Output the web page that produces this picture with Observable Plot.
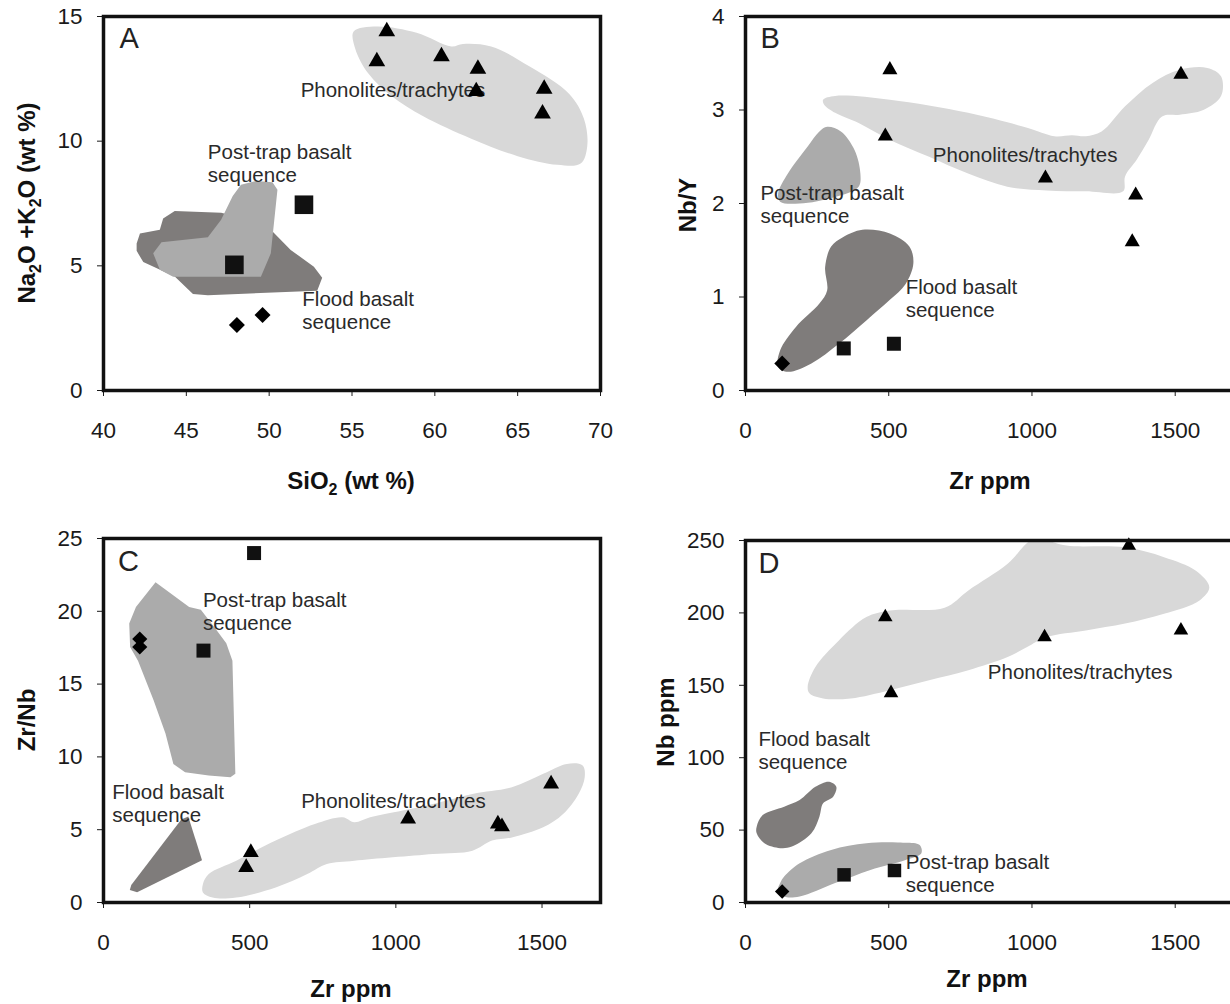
<!DOCTYPE html>
<html>
<head>
<meta charset="utf-8">
<script src="https://cdn.jsdelivr.net/npm/d3@7"></script>
<script src="https://cdn.jsdelivr.net/npm/@observablehq/plot@0.6"></script>
<style>
  html, body { margin: 0; padding: 0; background: #fff; overflow: hidden; }
  #wrap { position: relative; width: 1230px; height: 1004px; overflow: hidden; background: #fff; }
  #wrap svg { position: absolute; overflow: visible; }
</style>
</head>
<body>
<div id="wrap"></div>
<script>
// ---------------- Panel A: SiO2 vs Na2O+K2O ----------------
const aXTicks = [40, 45, 50, 55, 60, 65, 70];
const aYTicks = [0, 5, 10, 15];
const aTriangles = [[57.1,14.4],[56.5,13.2],[60.4,13.4],[62.6,12.9],[62.5,12.0],[66.6,12.1],[66.5,11.1]];
const aSquares = [[52.1,7.45],[47.9,5.04]];
const aDiamonds = [[48.05,2.63],[49.6,3.03]];
const aFieldPhon = [[55.1,14.4],[56.5,14.6],[58.9,14.35],[61.0,13.8],[61.7,13.9],[63.4,13.8],[65.7,13.0],[68.1,11.9],[69.0,10.9],[69.2,9.8],[68.8,9.1],[67.4,9.05],[65.0,9.4],[62.2,10.1],[59.3,11.0],[57.4,11.8],[56.0,12.7],[55.2,13.7]];
const aFieldFlood = [[42.0,5.9],[42.2,6.3],[43.4,6.45],[43.6,6.9],[44.3,7.2],[47.1,7.13],[48.5,6.9],[50.1,6.45],[51.3,5.64],[52.7,4.96],[53.2,4.52],[52.9,4.0],[46.3,3.82],[45.4,3.87],[44.3,4.57],[42.4,5.15],[42.0,5.6]];
const aFieldPost = [[43.0,5.5],[43.5,5.95],[46.3,6.15],[47.1,6.85],[47.8,7.8],[48.3,8.25],[49.2,8.4],[50.2,8.35],[50.5,8.05],[50.1,5.5],[49.5,4.56],[44.2,4.56],[43.4,4.84]];
const aLabels = [
  {x: 51.9, y: 12.07, t: "Phonolites/trachytes"},
  {x: 46.3, y: 9.12, t: "Post-trap basalt\nsequence"},
  {x: 52.0, y: 3.21, t: "Flood basalt\nsequence"}
];
const aLetter = {x: 40.97, y: 14.1, t: "A"};

// ---------------- Panel B: Zr vs Nb/Y ----------------
const bXTicks = [0, 500, 1000, 1500];
const bYTicks = [0, 1, 2, 3, 4];
const bTriangles = [[504,3.43],[488,2.72],[1047,2.27],[1520,3.38],[1362,2.09],[1350,1.59]];
const bSquares = [[343,0.45],[518,0.50]];
const bDiamonds = [[128,0.29]];
const bFieldPhon = [[271,3.11],[313,3.15],[504,3.11],[777,2.97],[983,2.81],[1078,2.72],[1140,2.73],[1188,2.72],[1243,2.77],[1325,3.04],[1421,3.29],[1516,3.43],[1612,3.45],[1660,3.36],[1660,3.15],[1598,3.0],[1516,2.95],[1454,2.93],[1407,2.68],[1366,2.47],[1325,2.29],[1318,2.13],[1188,2.13],[1051,2.14],[914,2.18],[777,2.32],[641,2.5],[504,2.68],[395,2.86],[313,2.97],[274,3.06]];
const bFieldPost = [[285,2.82],[333,2.77],[381,2.57],[401,2.32],[395,2.18],[313,2.07],[189,2.0],[121,2.02],[114,2.11],[148,2.32],[217,2.61],[258,2.77]];
const bFieldFlood = [[340,1.64],[408,1.72],[504,1.68],[572,1.54],[586,1.36],[559,1.14],[504,0.97],[422,0.75],[326,0.5],[230,0.29],[148,0.2],[114,0.25],[121,0.43],[176,0.68],[258,0.93],[285,1.07],[278,1.32],[299,1.54]];
const bLabels = [
  {x: 654, y: 2.52, t: "Phonolites/trachytes"},
  {x: 52, y: 1.99, t: "Post-trap basalt\nsequence"},
  {x: 559, y: 0.99, t: "Flood basalt\nsequence"}
];
const bLetter = {x: 52, y: 3.76, t: "B"};

// ---------------- Panel C: Zr vs Zr/Nb ----------------
const cXTicks = [0, 500, 1000, 1500];
const cYTicks = [0, 5, 10, 15, 20, 25];
const cTriangles = [[488,2.41],[504,3.44],[1042,5.74],[1349,5.39],[1363,5.21],[1531,8.15]];
const cSquares = [[515,24.0],[342,17.3]];
const cDiamonds = [[124,18.1],[124,17.55]];
const cFieldPost = [[178,22.0],[293,20.3],[333,20.1],[387,18.7],[420,17.8],[441,16.6],[451,8.84],[434,8.6],[360,8.72],[279,8.95],[239,9.52],[212,11.6],[171,13.9],[118,16.6],[91,17.55],[88,19.16],[111,20.3]];
const cFieldFlood = [[266,5.7],[290,5.9],[337,2.9],[115,0.7],[90,0.85],[95,1.2]];
const cFieldPhon = [[340,1.26],[360,1.95],[454,2.87],[589,4.25],[723,5.39],[818,5.85],[858,5.51],[912,5.85],[993,6.19],[1127,6.77],[1262,7.46],[1397,7.91],[1504,8.84],[1585,9.52],[1639,9.41],[1646,8.6],[1625,7.46],[1572,6.08],[1504,5.16],[1397,4.47],[1329,4.25],[1262,3.56],[1127,3.33],[858,2.87],[764,2.64],[697,1.95],[589,1.03],[454,0.34],[373,0.34],[340,0.69]];
const cLabels = [
  {x: 676, y: 7.0, t: "Phonolites/trachytes"},
  {x: 340, y: 20.0, t: "Post-trap basalt\nsequence"},
  {x: 30, y: 6.8, t: "Flood basalt\nsequence"}
];
const cLetter = {x: 50, y: 23.4, t: "C"};

// ---------------- Panel D: Zr vs Nb ----------------
const dXTicks = [0, 500, 1000, 1500];
const dYTicks = [0, 50, 100, 150, 200, 250];
const dTriangles = [[488,197.1],[508,144.7],[1044,183.3],[1338,246.5],[1520,187.9]];
const dSquares = [[344,19.1],[520,22.1]];
const dDiamonds = [[128,7.6]];
const dFieldPhon = [[217,148.9],[244,162.6],[326,181.0],[422,197.1],[504,201.7],[695,203.6],[778,215.5],[915,233.9],[997,250],[1051,250],[1120,246.5],[1325,245.3],[1461,238.5],[1571,229.3],[1619,217.8],[1585,208.6],[1461,199.4],[1325,192.6],[1188,187.9],[1051,183.3],[983,176.4],[915,169.5],[778,160.4],[641,153.5],[504,146.6],[367,140.9],[271,140.9],[224,144.3]];
const dFieldPost = [[121,13.4],[135,17.9],[189,27.1],[299,36.3],[422,40.9],[532,41.4],[607,39.8],[614,34.0],[559,29.4],[436,22.5],[313,13.4],[189,4.1],[135,4.1],[114,8.8]];
const dFieldFlood = [[39,52.4],[60,60.4],[135,66.2],[189,70.8],[244,79.9],[292,83.4],[317,79.9],[306,73.1],[271,68.5],[258,59.3],[230,47.8],[162,38.6],[121,37.5],[66,40.9],[39,47.8]];
const dLabels = [
  {x: 846, y: 159.2, t: "Phonolites/trachytes"},
  {x: 45, y: 105, t: "Flood basalt\nsequence"},
  {x: 559, y: 20, t: "Post-trap basalt\nsequence"}
];
const dLetter = {x: 45, y: 234, t: "D"};

// axis titles: [text, isSubscript]
const aXTitle = [["SiO"],["2", true],[" (wt %)"]];
const aYTitle = [["Na"],["2", true],["O +K"],["2", true],["O (wt %)"]];
const bXTitle = [["Zr ppm"]];
const bYTitle = [["Nb/Y"]];
const cXTitle = [["Zr ppm"]];
const cYTitle = [["Zr/Nb"]];
const dXTitle = [["Zr ppm"]];
const dYTitle = [["Nb ppm"]];

// ---------------- drawing ----------------
const FONT = "'Liberation Sans', Arial, Helvetica, sans-serif";
const LIGHT = "#d8d8d8", MID = "#ababab", DARK = "#7f7c7b";
const px = d => d[0], py = d => d[1];

function panel(c) {
  const marks = [];
  for (const f of c.fields) {
    marks.push(Plot.line(f.pts, {x: px, y: py, curve: f.curve, fill: f.fill, stroke: "none", clip: true}));
  }
  marks.push(Plot.text(c.labels, {x: "x", y: "y", text: "t", textAnchor: "start", lineAnchor: "middle", lineHeight: 1.12, fontSize: 20.5, fill: "#2a2a2a"}));
  marks.push(Plot.text([c.letter], {x: "x", y: "y", text: "t", textAnchor: "start", lineAnchor: "middle", fontSize: 29, fill: "#222"}));
  marks.push(Plot.dot(c.tri, {x: px, y: py, symbol: "triangle", r: c.rTri, fill: "#000", stroke: "none"}));
  marks.push(Plot.dot(c.sq, {x: px, y: py, symbol: "square", r: c.rSq, fill: "#111", stroke: "none"}));
  marks.push(Plot.dot(c.dia, {x: px, y: py, symbol: "diamond2", r: c.rDia, fill: "#000", stroke: "none"}));
  marks.push(Plot.frame({stroke: "#111", strokeWidth: 3.5}));
  const svg = Plot.plot({
    width: c.width, height: c.height,
    marginLeft: c.ml, marginRight: c.mr, marginTop: c.mt, marginBottom: c.mb,
    style: {fontFamily: FONT, fontSize: "22.5px", color: "#1a1a1a", background: "transparent"},
    x: {domain: c.xDomain, ticks: c.xTicks, tickFormat: d => String(d), tickSize: 6, tickPadding: 26, label: null},
    y: {domain: c.yDomain, ticks: c.yTicks, tickFormat: d => String(d), tickSize: 6, tickPadding: 15, label: null},
    marks
  });
  svg.style.left = c.left + "px";
  svg.style.top = c.top + "px";
  addTitle(svg, c.xt[0], c.xt[1], c.xTitle, false);
  addTitle(svg, c.yt[0], c.yt[1], c.yTitle, true);
  document.getElementById("wrap").appendChild(svg);
}

function addTitle(svg, x, y, parts, rotate) {
  const t = d3.select(svg).append("text")
    .attr("transform", `translate(${x},${y})` + (rotate ? " rotate(-90)" : ""))
    .attr("text-anchor", "middle").attr("dy", "0.36em")
    .attr("font-family", FONT).attr("font-weight", "bold")
    .attr("font-size", 24).attr("fill", "#111");
  let shifted = false;
  for (const [s, sub] of parts) {
    const ts = t.append("tspan").text(s);
    if (sub) { ts.attr("dy", 6).attr("font-size", 16); shifted = true; }
    else if (shifted) { ts.attr("dy", -6); shifted = false; }
  }
}

panel({
  left: 0, top: 0, width: 615, height: 500, ml: 103, mr: 15, mt: 16, mb: 110,
  xDomain: [40, 70], yDomain: [0, 15], xTicks: aXTicks, yTicks: aYTicks,
  fields: [
    {pts: aFieldPhon, fill: LIGHT, curve: "catmull-rom-closed"},
    {pts: aFieldFlood, fill: DARK, curve: "linear-closed"},
    {pts: aFieldPost, fill: MID, curve: "linear-closed"}
  ],
  labels: aLabels, letter: aLetter,
  tri: aTriangles, sq: aSquares, dia: aDiamonds, rTri: 6.2, rSq: 10.5, rDia: 7.2,
  xTitle: aXTitle, yTitle: aYTitle, xt: [351, 480], yt: [26, 203]
});

panel({
  left: 615, top: 0, width: 617, height: 500, ml: 130, mr: 0, mt: 16, mb: 110,
  xDomain: [0, 1700], yDomain: [0, 4], xTicks: bXTicks, yTicks: bYTicks,
  fields: [
    {pts: bFieldPhon, fill: LIGHT, curve: "catmull-rom-closed"},
    {pts: bFieldPost, fill: MID, curve: "catmull-rom-closed"},
    {pts: bFieldFlood, fill: DARK, curve: "catmull-rom-closed"}
  ],
  labels: bLabels, letter: bLetter,
  tri: bTriangles, sq: bSquares, dia: bDiamonds, rTri: 5.6, rSq: 7.9, rDia: 7.1,
  xTitle: bXTitle, yTitle: bYTitle, xt: [375, 480], yt: [72, 205]
});

panel({
  left: 0, top: 500, width: 615, height: 504, ml: 103, mr: 15, mt: 38, mb: 102,
  xDomain: [0, 1700], yDomain: [0, 25], xTicks: cXTicks, yTicks: cYTicks,
  fields: [
    {pts: cFieldPost, fill: MID, curve: "linear-closed"},
    {pts: cFieldFlood, fill: DARK, curve: "linear-closed"},
    {pts: cFieldPhon, fill: LIGHT, curve: "catmull-rom-closed"}
  ],
  labels: cLabels, letter: cLetter,
  tri: cTriangles, sq: cSquares, dia: cDiamonds, rTri: 5.9, rSq: 7.9, rDia: 6.8,
  xTitle: cXTitle, yTitle: cYTitle, xt: [351, 488], yt: [26, 220]
});

panel({
  left: 615, top: 500, width: 617, height: 504, ml: 130, mr: 0, mt: 40, mb: 102,
  xDomain: [0, 1700], yDomain: [0, 250], xTicks: dXTicks, yTicks: dYTicks,
  fields: [
    {pts: dFieldPhon, fill: LIGHT, curve: "catmull-rom-closed"},
    {pts: dFieldPost, fill: MID, curve: "catmull-rom-closed"},
    {pts: dFieldFlood, fill: DARK, curve: "catmull-rom-closed"}
  ],
  labels: dLabels, letter: dLetter,
  tri: dTriangles, sq: dSquares, dia: dDiamonds, rTri: 5.4, rSq: 7.6, rDia: 6.5,
  xTitle: dXTitle, yTitle: dYTitle, xt: [372, 478], yt: [50, 222]
});
</script>
</body>
</html>
